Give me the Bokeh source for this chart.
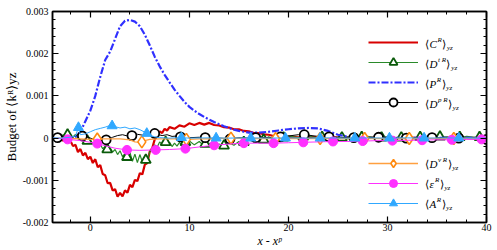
from math import pi
import numpy as np
from bokeh.plotting import figure
from bokeh.models import (Range1d, LinearAxis, FixedTicker, CustomJSTickFormatter,
                          Legend, LegendItem, Label)
from bokeh.core.properties import value
from bokeh.embed import file_html
from bokeh.resources import INLINE

# ---------------- data (values in units of 1e-4) ----------------
c_x = [-3.75, -3.5, -3.25, -3.0, -2.75, -2.5, -2.25, -2.0, -1.75, -1.5, -1.25, -1.0, -0.75, -0.5,
       -0.25, 0.0, 0.25, 0.5, 0.75, 1.0, 1.25, 1.5, 1.75, 2.0, 2.25, 2.5, 2.75, 3.0, 3.25, 3.5,
       3.75, 4.0, 4.25, 4.5, 4.75, 5.0, 5.25, 5.5, 5.75, 6.0, 6.25, 6.5, 6.75, 7.0, 7.25, 7.5,
       7.75, 8.0, 8.5, 9.0, 9.5, 10.0, 10.5, 11.0, 11.5, 12.0, 12.5, 13.0, 13.5, 14.0, 14.5, 15.0,
       15.5, 16.0, 16.5, 17.0, 17.5, 18.0, 18.5, 19.0, 19.5, 20.0, 21, 22, 23, 24, 25, 26, 27, 28,
       29, 30, 31, 32, 33, 34, 35, 36, 37, 38, 39, 40]
c_v = [-0.2, 0.1, -0.3, 0.0, -0.6, -0.2, -1.0, -0.7, -1.9, -1.6, -3.3, -2.6, -4.1, -3.5, -5.0,
       -4.4, -5.9, -5.0, -6.9, -6.4, -8.5, -8.8, -10.7, -10.6, -12.4, -12.1, -13.9, -13.0, -13.8,
       -12.4, -12.9, -11.1, -11.6, -9.9, -10.2, -8.3, -8.6, -6.3, -5.9, -3.2, -2.4, -0.3, 0.4, 1.6,
       1.2, 2.2, 1.8, 2.6, 2.2, 3.0, 2.7, 3.5, 3.1, 3.6, 3.2, 3.6, 3.1, 3.0, 2.6, 2.5, 2.1, 2.1,
       1.7, 1.6, 1.2, 1.2, 0.9, 0.8, 0.5, 0.5, 0.3, 0.35, 0.2, 0.3, 0.15, 0.25, 0.1, 0.2, 0.05,
       0.15, 0.05, 0.1, 0.0, 0.1, 0.05, 0.1, 0.0, 0.05, 0.1, 0.0, 0.05, 0.05]

dt_x = [-3.75, -3.5, -3.25, -3.0, -2.75, -2.5, -2.25, -2.0, -1.75, -1.5, -1.25, -1.0, -0.75, -0.5,
        -0.25, 0.0, 0.25, 0.5, 0.75, 1.0, 1.25, 1.5, 1.75, 2.0, 2.25, 2.5, 2.75, 3.0, 3.25, 3.5,
        3.75, 4.0, 4.25, 4.5, 4.75, 5.0, 5.25, 5.5, 5.75, 6.0, 6.25, 6.5, 6.75, 7.0, 7.25, 7.5,
        7.75, 8.0, 8.25, 8.5, 8.75, 9.0, 9.25, 9.5, 9.75, 10.0, 10.5, 11.0, 11.5, 12.0, 12.5, 13.0,
        13.5, 14.0, 14.5, 15.0, 15.5, 16.0, 16.5, 17.0, 17.5, 18.0, 18.5, 19.0, 19.5, 20.0, 21, 22,
        23, 24, 25, 26, 27, 28, 29, 30, 31, 32, 33, 34, 35, 36, 37, 38, 39, 40]
dt_v = [0.2, -0.3, 0.4, 0.0, 0.8, 0.3, 1.0, 0.5, 0.3, 0.9, -0.2, 0.5, -0.6, 0.1, -0.9, -0.5, -1.4,
        -1.0, -1.9, -1.5, -2.5, -2.0, -2.8, -2.3, -3.3, -2.7, -3.9, -3.0, -4.4, -3.6, -4.7, -3.4,
        -5.5, -3.8, -5.8, -3.9, -5.6, -4.6, -5.3, -3.2, -2.6, -1.6, -2.1, -0.9, -1.5, -0.8, -1.8,
        -1.0, -2.0, -1.2, -1.9, -1.0, -1.7, -0.9, -1.5, -0.7, -1.6, -0.8, -1.9, -1.2, -2.2, -1.4,
        -2.0, -1.1, -1.7, -0.8, -1.2, -0.4, -0.9, -0.1, -0.5, 0.3, -0.2, 0.4, 0.0, 0.5, 0.1, 0.5,
        0.0, 0.4, -0.1, 0.3, 0.0, 0.4, 0.0, 0.3, -0.1, 0.3, 0.0, 0.4, 0.1, 0.3, 0.0, 0.4, 0.1, 0.2]
dt_mx = [-2.3, -0.3, 1.7, 3.7, 5.6, 7.6, 9.6, 11.6, 13.5, 15.5, 17.5, 19.5, 21.5, 23.4, 25.4,
         27.4, 29.4, 31.4, 33.3, 35.3, 37.3, 39.3]
dt_mv = [0.8, -0.7, -2.7, -4.5, -5.2, -1.0, -1.0, -1.4, -1.8, -1.0, -0.4, 0.1, 0.3, 0.2, 0.1,
         0.2, 0.1, 0.1, 0.2, 0.3, 0.2, 0.2]

p_x = [-3.75, -3, -2, -1.5, -1, -0.5, 0, 0.5, 1, 1.5, 2, 2.5, 3, 3.5, 4, 4.5, 5, 5.5, 6, 6.5, 7,
       7.5, 8, 8.5, 9, 9.5, 10, 10.5, 11, 11.5, 12, 12.5, 13, 13.5, 14, 14.5, 15, 15.5, 16, 17, 18,
       19, 20, 21, 22, 23, 24, 25, 26, 27, 28, 30, 32, 34, 36, 38, 40]
p_v = [0, 0, 0.05, 0.3, 1.5, 4.0, 6.5, 10, 14.5, 18.5, 20.5, 23.5, 26.5, 27.8, 28.0, 27.6, 26.5,
       24.5, 22.0, 19.3, 17.0, 15.0, 13.2, 11.5, 10.0, 8.6, 7.4, 6.5, 5.7, 5.0, 4.4, 3.8, 3.3, 2.8,
       2.4, 2.0, 1.7, 1.5, 1.3, 1.3, 1.5, 1.8, 2.1, 2.3, 2.4, 2.3, 1.7, 0.8, 0.3, 0.1, 0.05, 0.05,
       0.05, 0.05, 0.05, 0.05, 0.05]

dp_x = [-3.75, -3.25, -2.75, -2.25, -1.75, -1.25, -0.75, -0.25, 0.25, 0.75, 1.25, 1.75, 2.25,
        2.75, 3.25, 3.75, 4.25, 4.75, 5.25, 5.75, 6.25, 6.75, 7.25, 7.75, 8.25, 8.75, 9.25, 10, 11,
        12, 13, 14, 15, 16, 17, 18, 19, 20, 21, 22, 23, 24, 25, 26, 27, 28, 29, 30, 31, 32, 33, 34,
        35, 36, 37, 38, 39, 40]
dp_v = [0.2, 0.1, 0.3, 0.5, 0.2, 0.9, 0.5, 0.2, -0.2, 0.1, -0.3, -0.4, 0.2, 0.6, 0.8, 0.5, 0.6,
        0.9, 0.7, 1.0, 1.2, 0.9, 0.6, 0.8, 0.4, 0.5, 0.2, 0.1, 0.2, -0.1, 0.0, -0.2, 0.1, 0.0, 0.2,
        0.1, 0.3, 0.5, 0.8, 0.7, 0.4, 0.3, 0.2, 0.1, 0.2, 0.1, 0.2, 0.1, 0.0, 0.0, 0.1, 0.0, 0.1,
        0.0, 0.0, -0.1, -0.2, -0.3]
dp_mx = [-3.3, -0.8, 1.6, 4.2, 6.5, 9.1, 11.6, 14.1, 16.7, 19.2, 21.6, 24.1, 26.6, 29.1, 31.9,
         34.5, 37.2, 40.0]
dp_mv = [0.1, 0.5, -0.4, 0.6, 1.1, 0.3, 0.1, -0.2, 0.1, 0.3, 0.8, 0.3, 0.1, 0.2, 0.0, 0.1, 0.0,
         -0.3]

dv_x = [-3.75, -3, -2, -1, 0, 1, 2, 3, 4, 4.5, 5, 5.5, 6, 7, 8, 9, 10, 11, 12, 13, 14, 16, 18, 20,
        22, 24, 26, 28, 30, 32, 34, 36, 38, 40]
dv_v = [0, 0, -0.1, -0.2, -0.3, -0.2, -0.2, -0.2, -0.4, -0.9, -1.0, -0.6, -0.3, -0.2, -0.2, -0.2,
        -0.3, -0.2, -0.2, -0.1, 0.0, -0.1, -0.1, -0.1, -0.1, -0.1, -0.1, -0.1, -0.1, -0.1, -0.1,
        -0.1, -0.1, -0.1]
dv_mx = [0.7, 5.2, 9.7, 14.2, 18.7, 23.2, 27.7, 32.2, 36.7]
dv_mv = [-0.2, -0.9, -0.3, 0.0, -0.1, -0.1, -0.1, -0.1, -0.1]

e_x = [-3.75, -3, -2.3, -1, 0, 0.7, 1.5, 2.5, 3.7, 5, 6.6, 8, 9.6, 11, 12.5, 14, 15.5, 17, 18.5,
       20, 21.5, 23, 24.5, 26, 27.5, 29, 30.5, 32, 33.5, 35, 36.5, 38, 40]
e_v = [0, -0.1, -0.3, -0.6, -1.0, -1.3, -1.8, -2.4, -2.8, -2.9, -2.8, -2.7, -2.5, -2.1, -1.7,
       -1.4, -1.2, -1.2, -1.2, -1.1, -1.0, -0.9, -0.8, -0.8, -0.7, -0.6, -0.6, -0.5, -0.5, -0.4,
       -0.4, -0.3, -0.3]
e_mx = [-2.3, 0.7, 3.7, 6.6, 9.6, 12.5, 15.5, 18.5, 21.5, 24.5, 27.5, 30.5, 33.5, 36.5, 39.5]
e_mv = [-0.3, -1.3, -2.8, -2.8, -2.5, -1.7, -1.2, -1.2, -1.0, -0.8, -0.7, -0.6, -0.5, -0.4, -0.3]

a_x = [-3.75, -3, -2, -1.5, -1.2, -1, -0.5, 0, 0.5, 1, 1.5, 2, 2.5, 3, 3.5, 4, 4.5, 5, 5.5, 6,
       6.5, 7, 8, 9, 10, 12, 14, 16, 18, 20, 22, 24, 26, 28, 30, 32, 34, 36, 38, 40]
a_v = [0.1, 0, 0.2, 0.5, 2.5, 0.8, 1.0, 1.5, 2.0, 2.3, 2.6, 3.0, 2.7, 2.4, 2.6, 2.2, 2.4, 2.0,
       1.4, 0.7, 0.3, 0.1, 0.0, 0.1, 0.0, 0.05, 0.0, 0.05, 0.0, 0.05, 0.0, 0.05, 0.0, 0.05, 0.0,
       0.05, 0.0, 0.05, 0.0, 0.0]
a_mx = [-1.2, 2.2, 5.7, 9.2, 12.7, 16.2, 19.7, 23.2, 26.7, 30.2, 33.7, 37.2]
a_mv = [2.5, 2.9, 1.1, 0.1, 0.0, 0.0, 0.0, 0.0, 0.0, 0.0, 0.0, 0.0]

x_major = [0, 10, 20, 30, 40]
y_major = [-0.002, -0.001, 0.0, 0.001, 0.002, 0.003]
x_title = "x - xᵖ"
y_title = "Budget of ⟨kᴿ⟩yz"

UNIT = 1e-4
def sc(v):
    return np.array(v) * UNIT

# ---------------- layout ----------------
BL, BR, BT, BB = 50, 9, 11, 26
W, H = 486 + BR, 250
FW, FH = W - BL - BR, H - BT - BB
X0, X1 = -3.82, 40.0
Y0, Y1 = -0.002, 0.003
FONT = "Liberation Serif"

def px2x(px):  # window px -> data x
    return X0 + (px - BL) / FW * (X1 - X0)

def px2y(py):
    return Y1 - (py - BT) / FH * (Y1 - Y0)

p = figure(width=W, height=H, x_range=Range1d(X0, X1), y_range=Range1d(Y0, Y1),
           output_backend="svg", toolbar_location=None,
           min_border_left=BL, min_border_right=BR, min_border_top=BT, min_border_bottom=BB)
p.xgrid.visible = False
p.ygrid.visible = False
p.outline_line_color = "black"
p.outline_line_width = 1.5
p.background_fill_color = "white"

x_minor = [v for v in range(-2, 40, 2) if v % 10 != 0]
y_minor = [round(-0.002 + 0.0002 * i, 4) for i in range(26)]
y_minor = [v for v in y_minor if abs(round(v * 1000) - v * 1000) > 1e-6]

def style_axis(ax, labels=True):
    ax.axis_line_color = "black"
    ax.axis_line_width = 1.5
    ax.major_tick_in = 6
    ax.major_tick_out = 0
    ax.minor_tick_in = 3
    ax.minor_tick_out = 0
    ax.major_tick_line_width = 1.2
    ax.minor_tick_line_width = 1
    ax.major_label_text_font = FONT
    ax.major_label_text_font_size = "10px"
    ax.major_label_text_color = "black"
    ax.axis_label_text_font = FONT
    ax.axis_label_text_color = "black"
    if not labels:
        ax.major_label_text_font_size = "0px"
        ax.major_label_standoff = 0

p.xaxis.ticker = FixedTicker(ticks=x_major, minor_ticks=x_minor)
p.yaxis.ticker = FixedTicker(ticks=y_major, minor_ticks=y_minor)
p.yaxis.formatter = CustomJSTickFormatter(code="return Math.abs(tick) < 1e-9 ? '0' : tick.toFixed(3);")
for ax in p.xaxis:
    style_axis(ax)
    ax.major_label_standoff = 1
    ax.axis_label = x_title
    ax.axis_label_text_font_size = "12px"
    ax.axis_label_text_font_style = "italic"
    ax.axis_label_standoff = 0
for ax in p.yaxis:
    style_axis(ax)
    ax.major_label_standoff = 4
    ax.axis_label = y_title
    ax.axis_label_text_font_size = "13px"
    ax.axis_label_text_font_style = "normal"
    ax.axis_label_standoff = 1

top = LinearAxis(ticker=FixedTicker(ticks=x_major, minor_ticks=x_minor),
                 formatter=CustomJSTickFormatter(code="return '';"))
style_axis(top, labels=False)
p.add_layout(top, "above")
right = LinearAxis(ticker=FixedTicker(ticks=y_major, minor_ticks=y_minor),
                   formatter=CustomJSTickFormatter(code="return '';"))
style_axis(right, labels=False)
p.add_layout(right, "right")

# ---------------- series ----------------
RED, GREEN_L, GREEN_M, BLUE = "#d80000", "#2a8a2a", "#0a5a0a", "#3030ff"
ORANGE_L, ORANGE_M, MAG, CYAN = "#ffa040", "#ff8a10", "#ff30ff", "#30a8ff"

r_c = p.line(c_x, sc(c_v), line_color=RED, line_width=2.2)
r_dt = p.line(dt_x, sc(dt_v), line_color=GREEN_L, line_width=1.2)
r_dtm = p.scatter(dt_mx, sc(dt_mv), marker="triangle", size=10, fill_color="white",
                  line_color=GREEN_M, line_width=1.8)
r_p = p.line(p_x, sc(p_v), line_color=BLUE, line_width=2.2, line_dash="7 2 2 2")
r_dp = p.line(dp_x, sc(dp_v), line_color="black", line_width=1.0)
r_dpm = p.scatter(dp_mx, sc(dp_mv), marker="circle", size=9, fill_color="white",
                  line_color="black", line_width=1.8)
r_dv = p.line(dv_x, sc(dv_v), line_color=ORANGE_L, line_width=1.3)
r_dvm = p.scatter(dv_mx, sc(dv_mv), marker="diamond", size=12, fill_color="white",
                  line_color=ORANGE_M, line_width=1.6)
r_e = p.line(e_x, sc(e_v), line_color=MAG, line_width=1.0)
r_em = p.scatter(e_mx, sc(e_mv), marker="circle", size=9, fill_color=MAG, line_color=MAG)
r_a = p.line(a_x, sc(a_v), line_color=CYAN, line_width=1.0)
r_am = p.scatter(a_mx, sc(a_mv), marker="triangle", size=10, fill_color=CYAN, line_color=CYAN)

frame_bottom_win = BT + FH

def make_legend(items, bottom_win):
    leg = Legend(items=[LegendItem(label=value(" "), renderers=r) for r in items],
                 location=(366 - BL, frame_bottom_win - bottom_win),
                 orientation="vertical",
                 glyph_width=50, glyph_height=20, label_height=20, label_width=1,
                 label_standoff=0, spacing=0, padding=0, margin=0,
                 border_line_color=None, background_fill_alpha=0,
                 label_text_font_size="1px")
    p.add_layout(leg)

make_legend([[r_c], [r_dt, r_dtm], [r_p], [r_dp, r_dpm]], 114)
make_legend([[r_dv, r_dvm], [r_e, r_em], [r_a, r_am]], 215)

# ---------------- legend texts (rich, inside the frame) ----------------
EM = {"⟨": .39, "⟩": .39, "C": .667, "D": .722, "P": .611, "A": .611, "ε": .44, "p": .5,
      "R": .611, "y": .444, "z": .389, "t": .278, "v": .444, " ": .25}

def add_rich(xw, yw, pieces):
    pos = 0.0
    for text, size, italic, shift in pieces:
        p.add_layout(Label(x=px2x(xw), y=px2y(yw), text=text, text_font=FONT,
                           text_font_size=f"{size}px",
                           text_font_style="italic" if italic else "normal",
                           text_color="black", text_baseline="middle", text_align="left",
                           x_offset=pos, y_offset=shift))
        pos += sum(EM.get(ch, .5) for ch in text) * size + 0.5

def legend_text(letter, sup, yw):
    add_rich(424, yw, [("⟨", 11, False, 0), (letter, 11, True, 0), (sup, 7, True, 4),
                       ("⟩", 11, False, 0), ("yz", 7, True, -4)])

legend_text("C", "R", 44)
legend_text("D", "t R", 64)
legend_text("P", "R", 84)
legend_text("D", "p R", 104)
legend_text("D", "v R", 165)
legend_text("ε", "R", 185)
legend_text("A", "R", 205)

open("out.html", "w").write(file_html(p, INLINE))
